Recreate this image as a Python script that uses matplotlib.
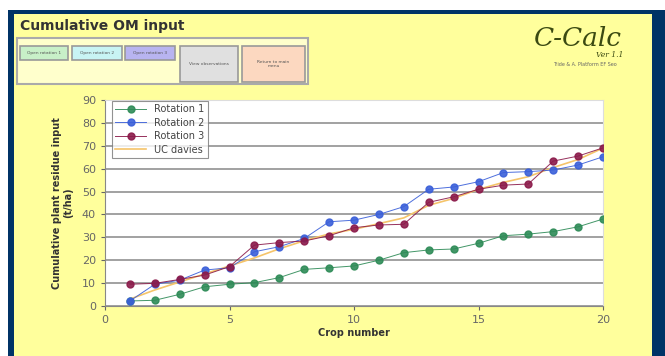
import matplotlib.pyplot as plt
from matplotlib.patches import Rectangle

W, H = 665, 356

crops = list(range(1, 21))
rotation1 = [2.2, 2.5, 5.1, 8.4, 9.5, 10.2, 12.4, 16.0, 16.7, 17.5,
             20.0, 23.3, 24.5, 24.9, 27.4, 30.7, 31.4, 32.5, 34.6, 38.0]
rotation2 = [2.2, 9.5, 11.3, 15.7, 16.7, 23.7, 25.9, 29.5, 36.8, 37.5,
             40.0, 43.4, 51.0, 52.0, 54.3, 58.3, 58.7, 59.4, 61.6, 65.2]
rotation3 = [9.5, 9.9, 11.6, 13.5, 17.2, 26.6, 27.7, 28.4, 30.7, 34.2,
             35.4, 35.7, 45.3, 47.7, 51.0, 52.8, 53.3, 63.3, 65.5, 69.1]
uc_davies = [3.0, 7.0, 10.5, 14.0, 17.5, 21.0, 25.0, 28.5, 31.5, 33.5,
             36.0, 38.5, 44.0, 47.0, 51.0, 54.0, 56.5, 60.5, 64.0, 69.0]

series_names = ['Rotation 1', 'Rotation 2', 'Rotation 3']
series_colors = ['#2e8b57', '#3a5fd9', '#8b1a4a']
buttons = ['Open rotation 1', 'Open rotation 2', 'Open rotation 3',
           'View observations', 'Return to main\nmenu']
button_colors = ['#c8f0c8', '#c8f4f4', '#b8b4f0', '#e0e0e0', '#fcd8c0']

fig = plt.figure(figsize=(W / 100, H / 100), dpi=100)
fig.patch.set_facecolor('white')


def box(x0, y0, x1, y1, **kw):
    # pixel box from the top-left corner of the image
    r = Rectangle((x0 / W, 1 - y1 / H), (x1 - x0) / W, (y1 - y0) / H,
                  transform=fig.transFigure, zorder=0, **kw)
    fig.patches.append(r)
    return r


def label(x, y, s, **kw):
    fig.text(x / W, 1 - y / H, s, **kw)


box(8, 10, 665, 356, facecolor='#003366', edgecolor='none')
box(14, 14, 652, 356, facecolor='#ffff9c', edgecolor='none')

label(20, 26, 'Cumulative OM input', fontsize=10, fontweight='bold',
      color='#333333', va='center', ha='left')

# button panel
box(17, 38, 308, 84, facecolor='#ffffcc', edgecolor='#aaaaaa', lw=1.5)
spots = [(20, 46, 68, 60), (72, 46, 122, 60), (125, 46, 175, 60),
         (180, 46, 238, 82), (242, 46, 305, 82)]
for (x0, y0, x1, y1), txt, c in zip(spots, buttons, button_colors):
    box(x0, y0, x1, y1, facecolor=c, edgecolor='#999999', lw=1.2)
    label((x0 + x1) / 2, (y0 + y1) / 2, txt, fontsize=3.2, ha='center',
          va='center', color='#555555')

# logo
label(578, 38, 'C-Calc', fontsize=19, family='DejaVu Serif', style='italic',
      color='#3b4a12', ha='center', va='center')
label(610, 55, 'Ver 1.1', fontsize=5.5, family='DejaVu Serif', style='italic',
      color='#3b4a12', ha='center', va='center')
label(585, 65, 'Tride & A. Platform EF Seo', fontsize=3.5, color='#666666',
      ha='center', va='center')

ax = fig.add_axes([105 / W, 50 / H, 498 / W, 206 / H])
ax.set_zorder(2)
ax.set_facecolor('white')

for vals, name, c in zip([rotation1, rotation2, rotation3], series_names, series_colors):
    ax.plot(crops, vals, color=c, lw=0.7, marker='o', markersize=5,
            markeredgecolor=c, label=name, zorder=3, alpha=0.9)
ax.plot(crops, uc_davies, color='#f5c46a', lw=1.2, label='UC davies', zorder=2)

ax.set_xlim(0, 20)
ax.set_ylim(0, 90)
ax.set_xticks([0, 5, 10, 15, 20])
ax.set_yticks(range(0, 91, 10))
ax.yaxis.grid(True, color='#9a9a9a', lw=1.3)
ax.set_axisbelow(True)
for s in ['top', 'right']:
    ax.spines[s].set_color('#dddddd')
for s in ['left', 'bottom']:
    ax.spines[s].set_color('#888888')
ax.tick_params(labelsize=8, colors='#666666', length=3)
ax.set_xlabel('Crop number', fontsize=7, fontweight='bold', color='#333333', labelpad=2)
ax.set_ylabel('Cumulative plant residue input\n(t/ha)', fontsize=7,
              fontweight='bold', color='#333333', labelpad=6)

leg = ax.legend(loc='upper left', bbox_to_anchor=(0.012, 1.0), fontsize=7,
                frameon=True, fancybox=False, borderpad=0.35, labelspacing=0.35,
                handlelength=3.2, borderaxespad=0.1)
leg.get_frame().set_edgecolor('#777777')
leg.get_frame().set_linewidth(0.8)
for t in leg.get_texts():
    t.set_color('#444444')

fig.savefig('out.png', dpi=100)
